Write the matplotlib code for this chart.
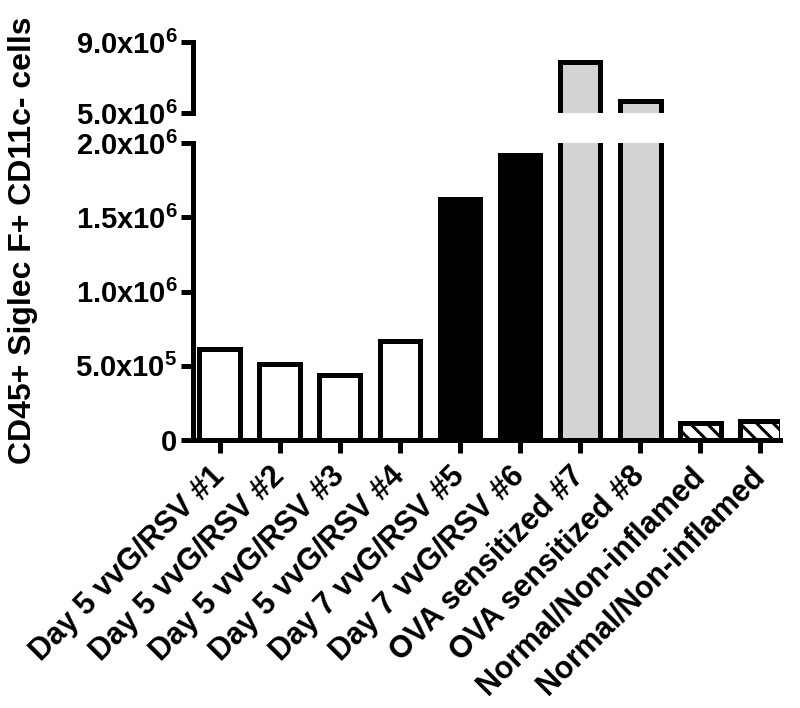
import numpy as np
import matplotlib
matplotlib.use("Agg")
import matplotlib.pyplot as plt

plt.rcParams['font.family'] = ['Liberation Sans', 'DejaVu Sans']
plt.rcParams['font.weight'] = 'bold'
plt.rcParams['mathtext.fontset'] = 'custom'
plt.rcParams['mathtext.rm'] = 'Liberation Sans:bold'
plt.rcParams['mathtext.it'] = 'Liberation Sans:bold'
plt.rcParams['mathtext.bf'] = 'Liberation Sans:bold'
plt.rcParams['hatch.linewidth'] = 2.2

# data
samples = ["Day 5 vvG/RSV #1", "Day 5 vvG/RSV #2", "Day 5 vvG/RSV #3",
           "Day 5 vvG/RSV #4", "Day 7 vvG/RSV #5", "Day 7 vvG/RSV #6",
           "OVA sensitized #7", "OVA sensitized #8",
           "Normal/Non-inflamed", "Normal/Non-inflamed"]
cells = [6.1e5, 5.1e5, 4.4e5, 6.7e5, 1.62e6, 1.92e6, 7.9e6, 5.7e6, 1.15e5, 1.3e5]
groups = ["day5", "day5", "day5", "day5", "day7", "day7", "ova", "ova", "normal", "normal"]

lower_ticks = [0, 5e5, 1e6, 1.5e6, 2e6]
lower_labels = ["0", r"5.0x10$^5$", r"1.0x10$^6$", r"1.5x10$^6$", r"2.0x10$^6$"]
upper_ticks = [5e6, 9e6]
upper_labels = [r"5.0x10$^6$", r"9.0x10$^6$"]

style = {
    "day5": dict(color="white", hatch=None),
    "day7": dict(color="black", hatch=None),
    "ova": dict(color="#d3d3d3", hatch=None),
    "normal": dict(color="white", hatch="\\\\"),
}

LW = 3.6
fig = plt.figure(figsize=(8, 7.08), dpi=100)
ax_lo = fig.add_axes([0.241, 0.3785, 0.734, 0.4195])
ax_hi = fig.add_axes([0.241, 0.8404, 0.734, 0.1003])

x = np.arange(len(samples))
for ax in (ax_lo, ax_hi):
    for xi, val, g in zip(x, cells, groups):
        st = style[g]
        ax.bar(xi, val, width=0.68, color=st["color"], edgecolor="black",
               linewidth=LW, hatch=st["hatch"], zorder=2)
    ax.set_xlim(-0.45, 9.33)
    for s in ("top", "right"):
        ax.spines[s].set_visible(False)
    ax.spines["left"].set_linewidth(LW)
    ax.spines["bottom"].set_linewidth(LW)
    ax.tick_params(width=LW, length=9, labelsize=21, pad=2)

ax_lo.set_ylim(0, 2e6)
ax_lo.set_yticks(lower_ticks)
ax_lo.set_yticklabels(lower_labels)
ax_lo.set_xticks(x)
ax_lo.set_xticklabels(samples, rotation=45, ha="right", va="center",
                      rotation_mode="anchor", fontsize=22, fontweight="bold")
ax_lo.tick_params(axis="x", pad=14)

ax_hi.set_ylim(5e6, 9e6)
ax_hi.set_yticks(upper_ticks)
ax_hi.set_yticklabels(upper_labels)
ax_hi.spines["bottom"].set_visible(False)
ax_hi.set_xticks([])

fig.text(0.029, 0.66, "CD45+ Siglec F+ CD11c- cells", rotation=90,
         ha="center", va="center", fontsize=23, fontweight="bold")

fig.savefig("out.png", dpi=100)
